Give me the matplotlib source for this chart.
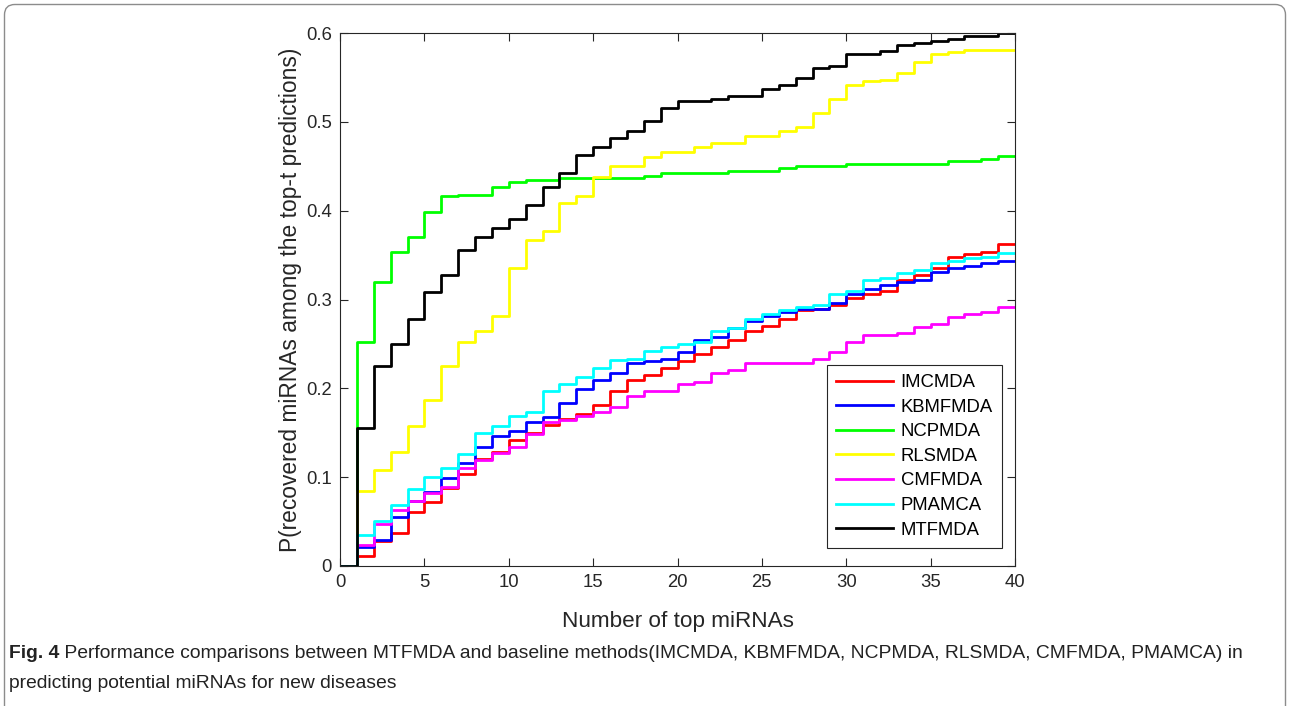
import numpy as np
import matplotlib
matplotlib.use("Agg")
import matplotlib.pyplot as plt
from matplotlib.patches import FancyBboxPatch
from matplotlib import font_manager

# ---------------- data ----------------
top_t = list(range(0, 41))
IMCMDA = [0, 0.0115, 0.0278, 0.0375, 0.0611, 0.0717, 0.0874, 0.1032, 0.120, 0.1287,
          0.1418, 0.1494, 0.1583, 0.1655, 0.1707, 0.1808, 0.1968, 0.2098, 0.215, 0.2230,
          0.2310, 0.2385, 0.2469, 0.2544, 0.2649, 0.2698, 0.2778, 0.2878, 0.289, 0.2935,
          0.3013, 0.3060, 0.3096, 0.322, 0.3276, 0.335, 0.3482, 0.3509, 0.3538, 0.362, 0.362]
KBMFMDA = [0, 0.0218, 0.0293, 0.0555, 0.0732, 0.0837, 0.0994, 0.1156, 0.1343, 0.1463,
           0.1525, 0.1622, 0.168, 0.1838, 0.1993, 0.2094, 0.2176, 0.2282, 0.231, 0.2334,
           0.2409, 0.2544, 0.2574, 0.2676, 0.2756, 0.281, 0.2862, 0.289, 0.289, 0.296,
           0.3062, 0.3117, 0.3163, 0.320, 0.322, 0.3306, 0.3359, 0.338, 0.3415, 0.3434, 0.3434]
NCPMDA = [0, 0.252, 0.320, 0.354, 0.370, 0.398, 0.416, 0.418, 0.418, 0.427,
          0.432, 0.4345, 0.4345, 0.437, 0.437, 0.437, 0.437, 0.437, 0.439, 0.442,
          0.442, 0.442, 0.442, 0.445, 0.445, 0.445, 0.4477, 0.4507, 0.4507, 0.4507,
          0.453, 0.453, 0.453, 0.453, 0.453, 0.453, 0.4555, 0.4555, 0.458, 0.461, 0.461]
RLSMDA = [0, 0.0844, 0.108, 0.1287, 0.1576, 0.1869, 0.2255, 0.2518, 0.2649, 0.2814,
          0.335, 0.3666, 0.377, 0.4086, 0.417, 0.4379, 0.4507, 0.4507, 0.4608, 0.4664,
          0.4664, 0.4713, 0.476, 0.476, 0.484, 0.484, 0.4897, 0.4945, 0.51, 0.526,
          0.542, 0.5456, 0.547, 0.5554, 0.5677, 0.5767, 0.5786, 0.581, 0.581, 0.581, 0.581]
CMFMDA = [0, 0.024, 0.0473, 0.0634, 0.0728, 0.0818, 0.0893, 0.110, 0.1193, 0.1268,
          0.1343, 0.1486, 0.1624, 0.1644, 0.1692, 0.1737, 0.1793, 0.1914, 0.197, 0.197,
          0.2049, 0.2072, 0.2176, 0.2206, 0.2282, 0.2282, 0.2282, 0.2282, 0.2332, 0.2413,
          0.2518, 0.2603, 0.2603, 0.262, 0.2694, 0.2724, 0.2807, 0.2833, 0.2856, 0.2912, 0.2912]
PMAMCA = [0, 0.0345, 0.0507, 0.0687, 0.087, 0.0998, 0.1107, 0.1261, 0.1494, 0.1576,
          0.1685, 0.1735, 0.1972, 0.2049, 0.2128, 0.2228, 0.2314, 0.2334, 0.2416, 0.2462,
          0.2498, 0.2525, 0.2648, 0.268, 0.2785, 0.2835, 0.2886, 0.291, 0.2938, 0.3066,
          0.3098, 0.322, 0.3245, 0.3302, 0.3332, 0.3408, 0.3434, 0.3464, 0.3482, 0.352, 0.352]
MTFMDA = [0, 0.1557, 0.2255, 0.250, 0.278, 0.309, 0.3276, 0.356, 0.370, 0.3805,
          0.3906, 0.4064, 0.427, 0.4428, 0.4627, 0.4713, 0.4814, 0.4897, 0.501, 0.5156,
          0.5237, 0.5237, 0.526, 0.5287, 0.5287, 0.5366, 0.5415, 0.5497, 0.5603, 0.5625,
          0.5762, 0.5762, 0.580, 0.586, 0.5884, 0.5914, 0.5936, 0.5966, 0.597, 0.5996, 0.5996]

series_names = ["IMCMDA", "KBMFMDA", "NCPMDA", "RLSMDA", "CMFMDA", "PMAMCA", "MTFMDA"]
series_values = [IMCMDA, KBMFMDA, NCPMDA, RLSMDA, CMFMDA, PMAMCA, MTFMDA]
series_colors = ["#ff0000", "#0000ff", "#00ff00", "#ffff00", "#ff00ff", "#00ffff", "#000000"]

x_ticks = [0, 5, 10, 15, 20, 25, 30, 35, 40]
y_ticks = [0, 0.1, 0.2, 0.3, 0.4, 0.5, 0.6]
y_tick_labels = ["0", "0.1", "0.2", "0.3", "0.4", "0.5", "0.6"]

x_label = "Number of top miRNAs"
y_label = "P(recovered miRNAs among the top-t predictions)"
caption_bold = "Fig. 4"
caption_line1 = (" Performance comparisons between MTFMDA and baseline methods(IMCMDA, KBMFMDA, "
                 "NCPMDA, RLSMDA, CMFMDA, PMAMCA) in")
caption_line2 = "predicting potential miRNAs for new diseases"

# ---------------- figure ----------------
W, H = 1290, 706
DPI = 100
plt.rcParams['font.family'] = ['Liberation Sans', 'DejaVu Sans']
fig = plt.figure(figsize=(W / DPI, H / DPI), dpi=DPI)
fig.patch.set_facecolor("white")

ax_l, ax_r, ax_t, ax_b = 340, 1015, 33, 566
ax = fig.add_axes([ax_l / W, 1 - ax_b / H, (ax_r - ax_l) / W, (ax_b - ax_t) / H])

for name, vals, col in zip(series_names, series_values, series_colors):
    ax.step(top_t, vals, where="post", color=col, lw=2.0, label=name)

ax.set_xlim(0, 40)
ax.set_ylim(0, 0.6)
ax.set_xticks(x_ticks)
ax.set_yticks(y_ticks)
ax.set_yticklabels(y_tick_labels)
ax.tick_params(direction="in", top=True, right=True, length=6, width=0.8,
               colors="#262626", labelsize=13.3, pad=6)
for sp in ax.spines.values():
    sp.set_color("#262626")
    sp.set_linewidth(0.8)

ax.set_xlabel(x_label, fontsize=16.2, color="#262626", labelpad=14)
ax.set_ylabel(y_label, fontsize=16.4, color="#262626", labelpad=3)

leg = ax.legend(loc="lower right", bbox_to_anchor=(0.981, 0.034), fontsize=13.3,
                frameon=True, fancybox=False, edgecolor="#262626", framealpha=1,
                handlelength=3.1, handletextpad=0.4, labelspacing=0.41,
                borderpad=0.5, borderaxespad=0)
leg.get_frame().set_linewidth(0.8)

# ---------------- caption ----------------
names = {f.name for f in font_manager.fontManager.ttflist}
cap_family = 'Liberation Sans Narrow' if 'Liberation Sans Narrow' in names else 'Liberation Sans'

renderer = fig.canvas.get_renderer()
cap_x0, cap_x1 = 9, 1236
fs = 13.5
tb = fig.text(cap_x0 / W, 1 - 654 / H, caption_bold, fontsize=fs, fontweight="bold",
              family=[cap_family, 'DejaVu Sans'], va="center", ha="left", color="#222222")
t1 = fig.text(0, 1 - 654 / H, caption_line1, fontsize=fs,
              family=[cap_family, 'DejaVu Sans'], va="center", ha="left", color="#222222")
wb = tb.get_window_extent(renderer).width
w1 = t1.get_window_extent(renderer).width
scale = (cap_x1 - cap_x0) / (wb + w1)
fs2 = fs * scale
tb.set_fontsize(fs2)
t1.set_fontsize(fs2)
wb = tb.get_window_extent(renderer).width
t1.set_x((cap_x0 + wb) / W)
fig.text(cap_x0 / W, 1 - 683 / H, caption_line2, fontsize=fs2,
         family=[cap_family, 'DejaVu Sans'], va="center", ha="left", color="#222222")

# ---------------- border ----------------
border = FancyBboxPatch((4.5 / W, -20 / H), (W - 9) / W, (H - 4.5 + 20) / H,
                        boxstyle="round,pad=0,rounding_size=0.008",
                        transform=fig.transFigure, fill=False,
                        edgecolor="#8c8c8c", lw=1.0, mutation_aspect=W / H)
fig.patches.append(border)

fig.savefig("out.png", dpi=DPI, facecolor="white")
